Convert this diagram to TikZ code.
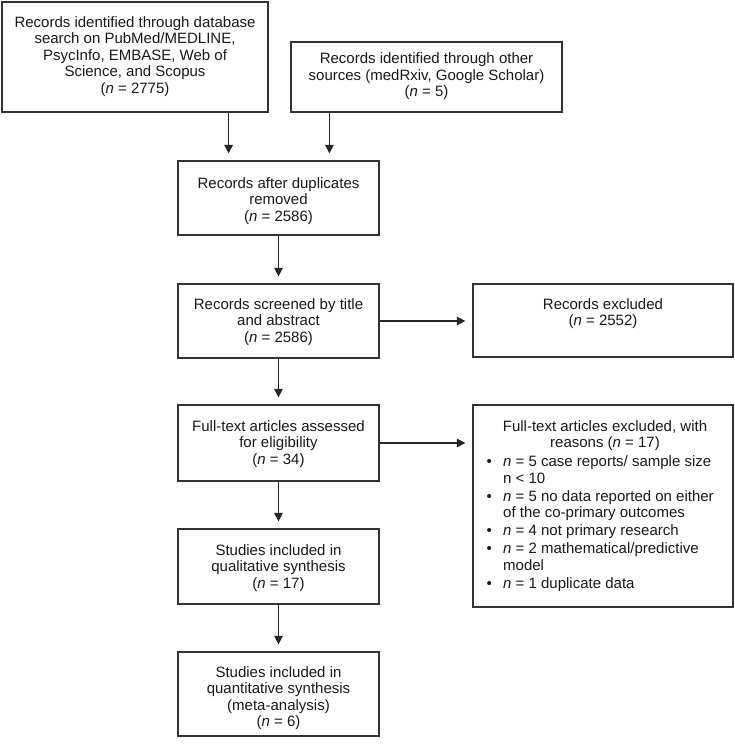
\documentclass[tikz,border=0pt]{standalone}
\usepackage{fontspec}
\setmainfont{Liberation Sans}
\usetikzlibrary{arrows.meta}
\newcommand{\ctl}[1]{\begin{tabular}[t]{@{}c@{}}#1\end{tabular}}
\newcommand{\nn}{\textit{n}}
\begin{document}
\begin{tikzpicture}[x=1pt,y=-1pt,
  box/.style={draw=black!80, line width=1.2pt, rectangle, inner sep=0pt},
  txt/.style={anchor=base, inner sep=0pt, font=\fontsize{15}{16.5}\selectfont, text=black!90},
  arr/.style={draw=black!85, line width=1.2pt, -{Triangle[length=8.5pt,width=8.5pt]}, shorten >=7pt}
]
\useasboundingbox (0,0) rectangle (735,746);
% boxes
\node[box, minimum width=266pt, minimum height=110pt] (b1) at (135,57) {};
\node[box, minimum width=271pt, minimum height=70pt] (b2) at (426.5,77) {};
\node[box, minimum width=201pt, minimum height=74pt] (b3) at (278.5,198) {};
\node[box, minimum width=201pt, minimum height=74pt] (b4) at (278.5,321) {};
\node[box, minimum width=201pt, minimum height=76pt] (b5) at (278.5,443) {};
\node[box, minimum width=201pt, minimum height=75pt] (b6) at (278.5,566.5) {};
\node[box, minimum width=201pt, minimum height=84pt] (b7) at (278.5,694) {};
\node[box, minimum width=260pt, minimum height=73pt] (rA) at (603,320.5) {};
\node[box, minimum width=260pt, minimum height=202pt] (rB) at (603,506) {};
% texts
\node[txt] (b1t) at (135,27.3) {\ctl{Records identified through database\\ search on PubMed/MEDLINE,\\ PsycInfo, EMBASE, Web of\\ Science, and Scopus\\ (\nn{} = 2775)}};
\node[txt] (b2t) at (426.5,64) {\ctl{Records identified through other\\ sources (medRxiv, Google Scholar)\\ (\nn{} = 5)}};
\node[txt] (b3t) at (278.5,188) {\ctl{Records after duplicates\\ removed\\ (\nn{} = 2586)}};
\node[txt] (b4t) at (278.5,309) {\ctl{Records screened by title\\ and abstract\\ (\nn{} = 2586)}};
\node[txt] (b5t) at (278.5,431) {\ctl{Full-text articles assessed\\ for eligibility\\ (\nn{} = 34)}};
\node[txt] (b6t) at (278.5,555) {\ctl{Studies included in\\ qualitative synthesis\\ (\nn{} = 17)}};
\node[txt] (b7t) at (278.5,677) {\ctl{Studies included in\\ quantitative synthesis\\ (meta-analysis)\\ (\nn{} = 6)}};
\node[txt] (rAt) at (603,309) {\ctl{Records excluded\\ (\nn{} = 2552)}};
\node[txt] (rBt) at (605,431) {\ctl{Full-text articles excluded, with\\ reasons (\nn{} = 17)}};
\node[txt, anchor=base west] (rBl) at (486.5,466.5) {\begin{tabular}[t]{@{}l@{\hspace{11.25pt}}l@{}}
\textbullet & \nn{} = 5 case reports/ sample size\\
 & n < 10\\[1.5pt]
\textbullet & \nn{} = 5 no data reported on either\\
 & of the co-primary outcomes\\[1.5pt]
\textbullet & \nn{} = 4 not primary research\\[1.5pt]
\textbullet & \nn{} = 2 mathematical/predictive\\
 & model\\[1.5pt]
\textbullet & \nn{} = 1 duplicate data
\end{tabular}};
% connectors
\coordinate (t1) at ([xshift=-40pt]b1.south east);
\coordinate (t2) at ([xshift=39pt]b2.south west);
\draw[arr] (t1) -- (t1 |- b3.north);
\draw[arr] (t2) -- (t2 |- b3.north);
\draw[arr] (b3.south) -- (b4.north);
\draw[arr] (b4.south) -- (b5.north);
\draw[arr] (b5.south) -- (b6.north);
\draw[arr] (b6.south) -- (b7.north);
\draw[arr] (b4.east) -- (b4.east -| rA.west);
\draw[arr] (b5.east) -- (b5.east -| rB.west);
\end{tikzpicture}
\end{document}
